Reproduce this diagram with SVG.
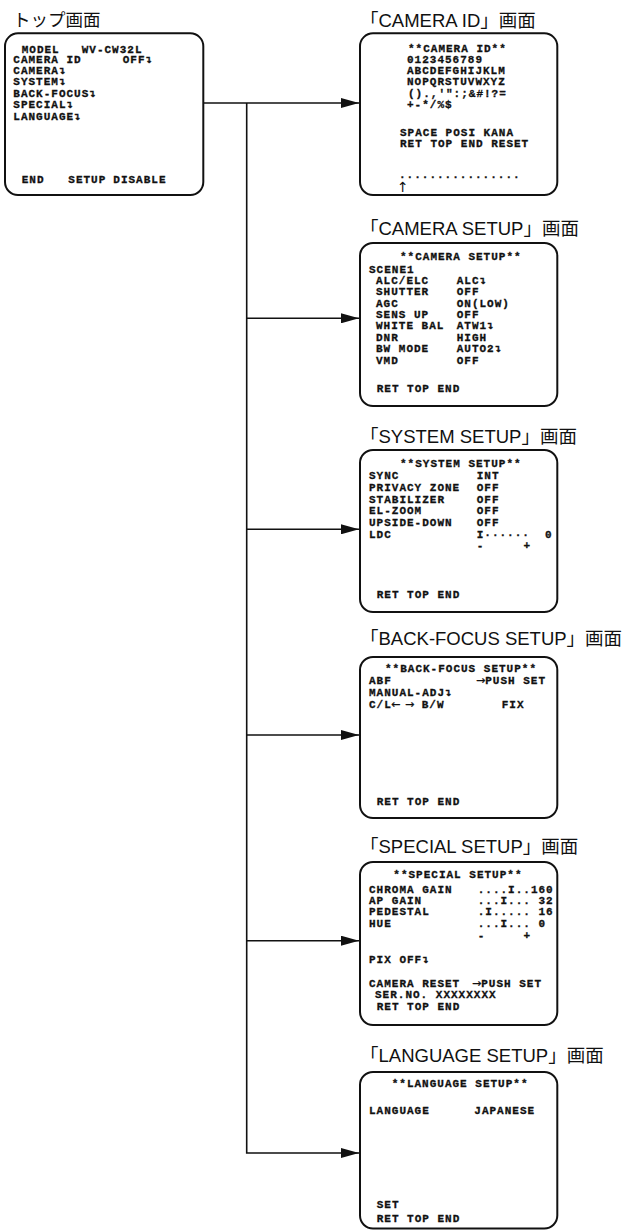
<svg xmlns="http://www.w3.org/2000/svg" width="638" height="1230" viewBox="0 0 638 1230">
<style>
.m{font-family:"Liberation Mono","DejaVu Sans Mono",monospace;font-weight:bold;font-size:11px;letter-spacing:1px;fill:#111;stroke:#111;stroke-width:0.3}
.a{font-family:"DejaVu Sans",sans-serif;font-weight:normal;letter-spacing:0}
.s{font-family:"DejaVu Sans",sans-serif;font-size:14px;fill:#111}
.t{font-family:"Liberation Sans","Noto Sans CJK JP",sans-serif;font-size:18.5px;fill:#111}
.tj{font-family:"Noto Sans CJK JP",sans-serif;font-size:17.5px;fill:#111}
.box{fill:#fff;stroke:#111;stroke-width:2}
.c{stroke:#111;stroke-width:1.6;fill:none}
</style>
<defs>
<marker id="ah" viewBox="0 0 18 10" refX="18" refY="5" markerWidth="18" markerHeight="10" markerUnits="userSpaceOnUse" orient="auto">
<path d="M0,0 L18,5 L0,10 z" fill="#111"/>
</marker>
</defs>

<g id="connectors">
<line class="c" x1="203" y1="103" x2="359" y2="103" marker-end="url(#ah)"/>
<polyline class="c" points="246.7,103 246.7,1153 359,1153" marker-end="url(#ah)"/>
<line class="c" x1="246.7" y1="318.3" x2="359" y2="318.3" marker-end="url(#ah)"/>
<line class="c" x1="246.7" y1="529.3" x2="359" y2="529.3" marker-end="url(#ah)"/>
<line class="c" x1="246.7" y1="735" x2="359" y2="735" marker-end="url(#ah)"/>
<line class="c" x1="246.7" y1="940.7" x2="359" y2="940.7" marker-end="url(#ah)"/>
</g>

<g id="top">
<text class="tj" x="13" y="26">トップ画面</text>
<rect class="box" x="5" y="33.3" width="198.3" height="161.7" rx="13"/>
<text class="m" x="21.7" y="52.7">MODEL</text><text class="m" x="81.7" y="52.7">WV-CW32L</text>
<text class="m" x="13.3" y="63.3">CAMERA ID</text><text class="m" x="122.7" y="63.3">OFF↴</text>
<text class="m" x="13.3" y="74.3">CAMERA↴</text>
<text class="m" x="13.3" y="85.3">SYSTEM↴</text>
<text class="m" x="13.3" y="96.7">BACK-FOCUS↴</text>
<text class="m" x="13.3" y="108">SPECIAL↴</text>
<text class="m" x="13.3" y="119.7">LANGUAGE↴</text>
<text class="m" x="21.7" y="182.7">END</text><text class="m" x="68.3" y="182.7">SETUP</text><text class="m" x="113.3" y="182.7">DISABLE</text>
</g>

<g id="camera-id">
<text class="t" x="360" y="26.5">「CAMERA ID」画面</text>
<rect class="box" x="360" y="33.3" width="197.3" height="161.7" rx="13"/>
<text class="m" x="408" y="51.7">**CAMERA ID**</text>
<text class="m" x="407" y="63.3">0123456789</text>
<text class="m" x="407" y="74.3">ABCDEFGHIJKLM</text>
<text class="m" x="407" y="85.3">NOPQRSTUVWXYZ</text>
<text class="m" x="408" y="96.7">().,'":;&amp;#!?=</text>
<text class="m" x="407" y="108.3">+-*/%$</text>
<text class="m" x="400" y="136">SPACE POSI KANA</text>
<text class="m" x="400" y="146.7">RET TOP END RESET</text>
<text class="m" x="399" y="178">................</text>
<text class="s" x="397" y="192">↑</text>
</g>

<g id="camera-setup">
<text class="t" x="360" y="235">「CAMERA SETUP」画面</text>
<rect class="box" x="360" y="243" width="197.3" height="163" rx="13"/>
<text class="m" x="400" y="260">**CAMERA SETUP**</text>
<text class="m" x="369" y="273.3">SCENE1</text>
<text class="m" x="376" y="284.3">ALC/ELC</text><text class="m" x="456.7" y="284.3">ALC↴</text>
<text class="m" x="376" y="295.3">SHUTTER</text><text class="m" x="456.7" y="295.3">OFF</text>
<text class="m" x="376" y="306.7">AGC</text><text class="m" x="456.7" y="306.7">ON(LOW)</text>
<text class="m" x="376" y="318">SENS UP</text><text class="m" x="456.7" y="318">OFF</text>
<text class="m" x="376" y="329.3">WHITE BAL</text><text class="m" x="456.7" y="329.3">ATW1↴</text>
<text class="m" x="376" y="340.7">DNR</text><text class="m" x="456.7" y="340.7">HIGH</text>
<text class="m" x="376" y="352.3">BW MODE</text><text class="m" x="456.7" y="352.3">AUTO2↴</text>
<text class="m" x="376" y="364">VMD</text><text class="m" x="456.7" y="364">OFF</text>
<text class="m" x="376.7" y="391.7">RET TOP END</text>
</g>

<g id="system-setup">
<text class="t" x="360" y="443.3">「SYSTEM SETUP」画面</text>
<rect class="box" x="360" y="450" width="197.3" height="162" rx="13"/>
<text class="m" x="400" y="466.7">**SYSTEM SETUP**</text>
<text class="m" x="369" y="479.3">SYNC</text><text class="m" x="476.7" y="479.3">INT</text>
<text class="m" x="369" y="491">PRIVACY ZONE</text><text class="m" x="476.7" y="491">OFF</text>
<text class="m" x="369" y="502.7">STABILIZER</text><text class="m" x="476.7" y="502.7">OFF</text>
<text class="m" x="369" y="514.3">EL-ZOOM</text><text class="m" x="476.7" y="514.3">OFF</text>
<text class="m" x="369" y="526">UPSIDE-DOWN</text><text class="m" x="476.7" y="526">OFF</text>
<text class="m" x="369" y="537.7">LDC</text><text class="m" x="476.7" y="537.7">I······</text><text class="m" x="545" y="537.7">0</text>
<text class="m" x="476.7" y="548.5">-</text><text class="m" x="523.5" y="548.5">+</text>
<text class="m" x="376.7" y="598">RET TOP END</text>
</g>

<g id="back-focus-setup">
<text class="t" x="360" y="645">「BACK-FOCUS SETUP」画面</text>
<rect class="box" x="360" y="657" width="197.3" height="161" rx="13"/>
<text class="m" x="385" y="671.7">**BACK-FOCUS SETUP**</text>
<text class="m" x="369" y="684.3">ABF</text><text class="m" x="476" y="684.3"><tspan class="a">→</tspan>PUSH SET</text>
<text class="m" x="369" y="696">MANUAL-ADJ↴</text>
<text class="m" x="369" y="707.7">C/L</text><text class="m a" x="391" y="707.7">←</text><text class="m a" x="405" y="707.7">→</text><text class="m" x="421.7" y="707.7">B/W</text><text class="m" x="501.7" y="707.7">FIX</text>
<text class="m" x="376.7" y="805">RET TOP END</text>
</g>

<g id="special-setup">
<text class="t" x="360" y="853.3">「SPECIAL SETUP」画面</text>
<rect class="box" x="360" y="862" width="197.3" height="163" rx="13"/>
<text class="m" x="393.3" y="878.3">**SPECIAL SETUP**</text>
<text class="m" x="369" y="893.3">CHROMA GAIN</text><text class="m" x="477.7" y="893.3">....I..160</text>
<text class="m" x="369" y="904">AP GAIN</text><text class="m" x="477.7" y="904">...I... 32</text>
<text class="m" x="369" y="915">PEDESTAL</text><text class="m" x="477.7" y="915">.I..... 16</text>
<text class="m" x="369" y="926.7">HUE</text><text class="m" x="477.7" y="926.7">...I...  0</text>
<text class="m" x="477.7" y="938.5">-</text><text class="m" x="523.5" y="938.5">+</text>
<text class="m" x="369" y="963.3">PIX OFF↴</text>
<text class="m" x="369" y="986.7">CAMERA RESET</text><text class="m" x="472" y="986.7"><tspan class="a">→</tspan>PUSH SET</text>
<text class="m" x="375" y="998.3">SER.NO. XXXXXXXX</text>
<text class="m" x="376.7" y="1010">RET TOP END</text>
</g>

<g id="language-setup">
<text class="t" x="360" y="1061.7">「LANGUAGE SETUP」画面</text>
<rect class="box" x="360" y="1072" width="197.3" height="156.5" rx="13"/>
<text class="m" x="391.7" y="1086.7">**LANGUAGE SETUP**</text>
<text class="m" x="369" y="1114">LANGUAGE</text><text class="m" x="474.3" y="1114">JAPANESE</text>
<text class="m" x="376.7" y="1208">SET</text>
<text class="m" x="376.7" y="1221.7">RET TOP END</text>
</g>
</svg>
